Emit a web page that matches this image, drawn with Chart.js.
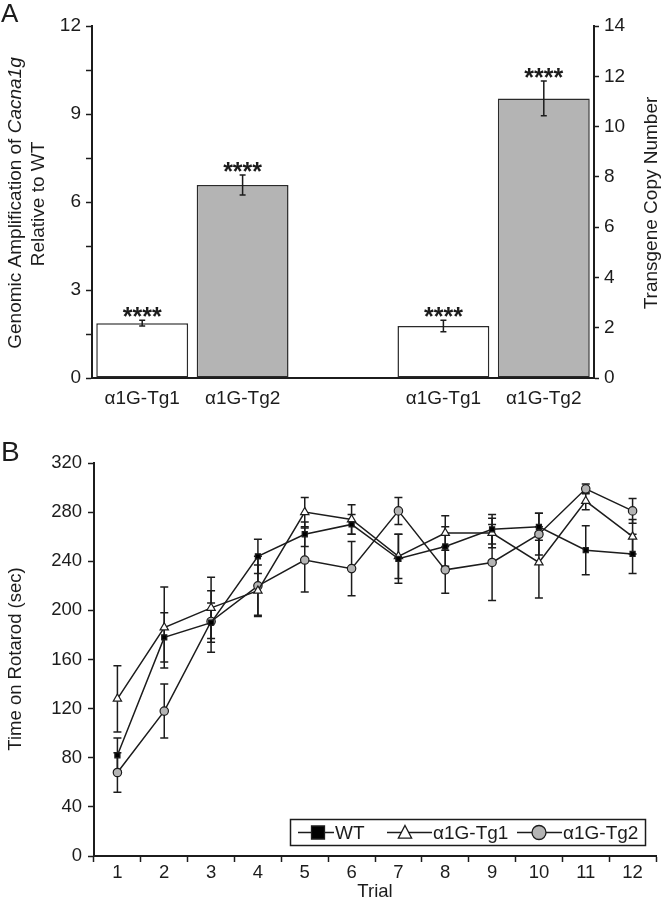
<!DOCTYPE html>
<html><head><meta charset="utf-8">
<script src="https://cdn.jsdelivr.net/npm/chart.js@4.4.1/dist/chart.umd.min.js"></script>
<style>
html,body{margin:0;padding:0;background:#fff;width:662px;height:899px;overflow:hidden}
#wa{position:absolute;left:0;top:0;width:662px;height:415px}
#wb{position:absolute;left:0;top:420px;width:662px;height:479px}
canvas{display:block}
</style></head><body>
<div id="wa"><canvas id="ca" width="662" height="415"></canvas></div>
<div id="wb"><canvas id="cb" width="662" height="479"></canvas></div>
<script>
// ---------- Panel A data ----------
const barCategories = ['α1G-Tg1', 'α1G-Tg2', '', 'α1G-Tg1', 'α1G-Tg2'];
const amplification = [1.87, 6.58, null, null, null];
const amplificationErr = [0.10, 0.34, null, null, null];
const copyNumber = [null, null, null, 2.07, 11.12];
const copyNumberErr = [null, null, null, 0.23, 0.69];
const significance = ['****', '****', null, '****', '****'];

// ---------- Panel B data ----------
const trials = ['1','2','3','4','5','6','7','8','9','10','11','12'];
const wt = [82, 178, 190, 244, 262, 270, 242, 252, 266, 268, 249, 246];
const wtErr = [14, 20, 16, 14, 10, 8, 20, 16, 12, 11, 20, 16];
const tg1 = [128, 186, 202, 216, 280, 274, 244, 263, 263, 239, 289, 260];
const tg1Err = [27, 33, 25, 21, 12, 12, 18, 14, 12, 29, 7, 14];
const tg2 = [68, 118, 191, 220, 241, 234, 281, 233, 239, 262, 299, 281];
const tg2Err = [16, 22, 25, 24, 26, 22, 11, 19, 31, 17, 4, 10];
const seriesNames = ['WT', 'α1G-Tg1', 'α1G-Tg2'];

const FONT = "'Liberation Sans', Arial, Helvetica, sans-serif";
const INK = '#1c1c1c';
const GREY = '#b4b4b4';

function drawRotated(ctx, x, y, parts, size) {
  ctx.save();
  ctx.translate(x, y);
  ctx.rotate(-Math.PI / 2);
  let total = 0;
  parts.forEach(p => { ctx.font = (p.italic ? 'italic ' : '') + size + 'px ' + FONT; p.w = ctx.measureText(p.text).width; total += p.w; });
  let cx = -total / 2;
  ctx.textAlign = 'left'; ctx.textBaseline = 'middle'; ctx.fillStyle = INK;
  parts.forEach(p => { ctx.font = (p.italic ? 'italic ' : '') + size + 'px ' + FONT; ctx.fillText(p.text, cx, 0); cx += p.w; });
  ctx.restore();
}

const annotA = {
  id: 'annotA',
  afterDatasetsDraw(chart) {
    const ctx = chart.ctx;
    const sets = [
      { meta: chart.getDatasetMeta(0), vals: amplification, errs: amplificationErr, scale: chart.scales.yL },
      { meta: chart.getDatasetMeta(1), vals: copyNumber, errs: copyNumberErr, scale: chart.scales.yR }
    ];
    ctx.save();
    ctx.strokeStyle = INK; ctx.lineWidth = 1.5;
    sets.forEach(s => {
      s.vals.forEach((v, i) => {
        if (v == null) return;
        const x = s.meta.data[i].x;
        const yt = s.scale.getPixelForValue(v + s.errs[i]);
        const yb = s.scale.getPixelForValue(v - s.errs[i]);
        ctx.beginPath();
        ctx.moveTo(x, yt); ctx.lineTo(x, yb);
        ctx.moveTo(x - 3, yt); ctx.lineTo(x + 3, yt);
        ctx.moveTo(x - 3, yb); ctx.lineTo(x + 3, yb);
        ctx.stroke();
        ctx.fillStyle = INK; ctx.font = 'bold 25px ' + FONT;
        ctx.textAlign = 'center'; ctx.textBaseline = 'alphabetic';
        ctx.fillText(significance[i], x, yt + 5);
      });
    });
    ctx.restore();
  },
  afterDraw(chart) {
    const ctx = chart.ctx;
    ctx.save();
    ctx.fillStyle = INK; ctx.font = '26px ' + FONT; ctx.textAlign = 'left'; ctx.textBaseline = 'alphabetic';
    ctx.fillText('A', 1, 22);
    ctx.restore();
    drawRotated(ctx, 16, 203, [{ text: 'Genomic Amplification of ' }, { text: 'Cacna1g', italic: true }], 19);
    drawRotated(ctx, 39, 204, [{ text: 'Relative to WT' }], 19);
    drawRotated(ctx, 652, 203, [{ text: 'Transgene Copy Number' }], 19);
  }
};

new Chart(document.getElementById('ca'), {
  type: 'bar',
  data: {
    labels: barCategories,
    datasets: [
      { data: amplification, yAxisID: 'yL', backgroundColor: ['#ffffff', GREY, '#fff', '#fff', '#fff'], borderColor: '#2a2a2a', borderWidth: 1.5, borderSkipped: false, grouped: false, barPercentage: 0.915, categoryPercentage: 1 },
      { data: copyNumber, yAxisID: 'yR', backgroundColor: ['#fff', '#fff', '#fff', '#ffffff', GREY], borderColor: '#2a2a2a', borderWidth: 1.5, borderSkipped: false, grouped: false, barPercentage: 0.915, categoryPercentage: 1 }
    ]
  },
  options: {
    responsive: false, animation: false, devicePixelRatio: 1,
    layout: { padding: { top: 26, left: 0, right: 0, bottom: 0 } },
    plugins: { legend: { display: false }, tooltip: { enabled: false } },
    scales: {
      x: {
        type: 'category',
        grid: { display: true, drawOnChartArea: false, drawTicks: false },
        border: { display: true, color: INK, width: 2 },
        ticks: { color: INK, font: { family: FONT, size: 19 }, padding: 9, maxRotation: 0, autoSkip: false },
        afterFit: s => { s.height = 37; }
      },
      yL: {
        position: 'left', min: 0, max: 12,
        ticks: { stepSize: 1.5, color: INK, font: { family: FONT, size: 19 }, padding: 5, callback: v => (v % 3 === 0 ? v : '') },
        grid: { drawOnChartArea: false, drawTicks: true, tickLength: 6, tickWidth: 1.5, tickColor: INK },
        border: { display: true, color: INK, width: 2 },
        afterFit: s => { s.width = 92; }
      },
      yR: {
        position: 'right', min: 0, max: 14,
        ticks: { stepSize: 1, color: INK, font: { family: FONT, size: 19 }, padding: 5, callback: v => (v % 2 === 0 ? v : '') },
        grid: { drawOnChartArea: false, drawTicks: true, tickLength: 5, tickWidth: 1.5, tickColor: INK },
        border: { display: true, color: INK, width: 2 },
        afterFit: s => { s.width = 68; }
      }
    }
  },
  plugins: [annotA]
});

// ---------- Panel B ----------
const errsB = [wtErr, tg1Err, tg2Err];
const valsB = [wt, tg1, tg2];

function marker(ctx, style, x, y, r, fill) {
  ctx.save();
  ctx.fillStyle = fill; ctx.strokeStyle = INK; ctx.lineWidth = 1.3;
  ctx.beginPath();
  if (style === 'rect') { ctx.rect(x - r, y - r, 2 * r, 2 * r); }
  else if (style === 'triangle') { ctx.moveTo(x, y - r); ctx.lineTo(x + r * 0.95, y + r * 0.8); ctx.lineTo(x - r * 0.95, y + r * 0.8); ctx.closePath(); }
  else { ctx.arc(x, y, r, 0, Math.PI * 2); }
  ctx.fill(); ctx.stroke();
  ctx.restore();
}

const annotB = {
  id: 'annotB',
  beforeDatasetsDraw(chart) {
    const ctx = chart.ctx;
    const ys = chart.scales.y;
    ctx.save();
    ctx.strokeStyle = INK; ctx.lineWidth = 1.5;
    valsB.forEach((vals, d) => {
      const meta = chart.getDatasetMeta(d);
      vals.forEach((v, i) => {
        const x = meta.data[i].x;
        const yt = ys.getPixelForValue(v + errsB[d][i]);
        const yb = ys.getPixelForValue(v - errsB[d][i]);
        ctx.beginPath();
        ctx.moveTo(x, yt); ctx.lineTo(x, yb);
        ctx.moveTo(x - 4, yt); ctx.lineTo(x + 4, yt);
        ctx.moveTo(x - 4, yb); ctx.lineTo(x + 4, yb);
        ctx.stroke();
      });
    });
    ctx.restore();
  },
  afterDraw(chart) {
    const ctx = chart.ctx;
    ctx.save();
    ctx.fillStyle = INK; ctx.font = '28px ' + FONT; ctx.textAlign = 'left'; ctx.textBaseline = 'alphabetic';
    ctx.fillText('B', 1, 40.5);
    ctx.font = '18.5px ' + FONT; ctx.textAlign = 'center'; ctx.textBaseline = 'middle';
    ctx.fillText('Trial', 375, 472);
    // legend
    ctx.strokeStyle = INK; ctx.lineWidth = 1.5;
    ctx.fillStyle = '#fff';
    ctx.fillRect(290, 399, 356, 26);
    ctx.strokeRect(290.5, 399.5, 355, 26);
    const ly = 412.5;
    const items = [
      { x1: 298, x2: 334, mx: 318, style: 'rect', r: 6.5, fill: '#000', tx: 335 },
      { x1: 387, x2: 432, mx: 405, style: 'triangle', r: 7, fill: '#fff', tx: 433 },
      { x1: 517, x2: 562, mx: 539, style: 'circle', r: 7, fill: GREY, tx: 563 }
    ];
    items.forEach((it, k) => {
      ctx.beginPath(); ctx.moveTo(it.x1, ly); ctx.lineTo(it.x2, ly); ctx.stroke();
      marker(ctx, it.style, it.mx, ly, it.r, it.fill);
      ctx.fillStyle = INK; ctx.font = '19px ' + FONT; ctx.textAlign = 'left'; ctx.textBaseline = 'middle';
      ctx.fillText(seriesNames[k], it.tx, ly + 1);
    });
    ctx.restore();
    drawRotated(ctx, 16, 239, [{ text: 'Time on Rotarod (sec)' }], 18.5);
  }
};

const lineDs = (data, style, r, fill, label) => ({
  label, data, borderColor: INK, borderWidth: 1.5, pointStyle: style, pointRadius: r,
  pointBackgroundColor: fill, pointBorderColor: INK, pointBorderWidth: 1.2, tension: 0, fill: false
});

new Chart(document.getElementById('cb'), {
  type: 'line',
  data: {
    labels: trials,
    datasets: [
      lineDs(wt, 'rect', 3.6, '#000', seriesNames[0]),
      lineDs(tg1, 'triangle', 4.8, '#fff', seriesNames[1]),
      lineDs(tg2, 'circle', 4.2, GREY, seriesNames[2])
    ]
  },
  options: {
    responsive: false, animation: false, devicePixelRatio: 1,
    layout: { padding: { top: 43, left: 0, right: 1, bottom: 0 } },
    plugins: { legend: { display: false }, tooltip: { enabled: false } },
    scales: {
      x: {
        type: 'category', offset: true,
        grid: { offset: true, drawOnChartArea: false, drawTicks: true, tickLength: 6, tickWidth: 1.5, tickColor: INK },
        border: { display: true, color: INK, width: 2 },
        ticks: { color: INK, font: { family: FONT, size: 18.5 }, padding: 0, maxRotation: 0, autoSkip: false },
        afterFit: s => { s.height = 43; }
      },
      y: {
        min: 0, max: 320,
        ticks: { stepSize: 40, color: INK, font: { family: FONT, size: 18.5 }, padding: 6 },
        grid: { drawOnChartArea: false, drawTicks: true, tickLength: 6, tickWidth: 1.5, tickColor: INK },
        border: { display: true, color: INK, width: 2 },
        afterFit: s => { s.width = 94; }
      }
    }
  },
  plugins: [annotB]
});
</script></body></html>
